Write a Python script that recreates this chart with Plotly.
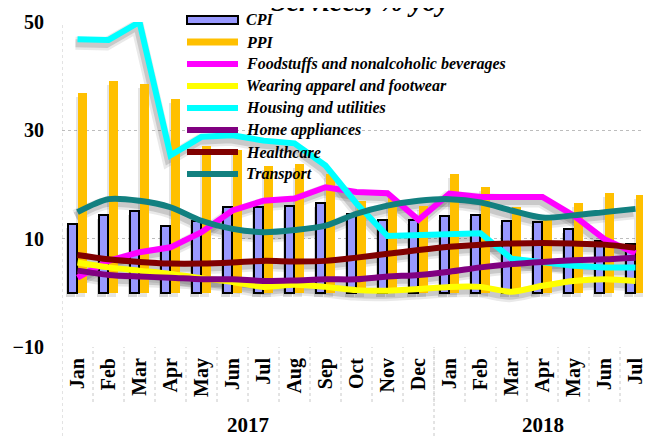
import plotly.graph_objects as go

# ------------------ data ------------------
months = ["Jan", "Feb", "Mar", "Apr", "May", "Jun", "Jul", "Aug", "Sep", "Oct", "Nov", "Dec",
          "Jan", "Feb", "Mar", "Apr", "May", "Jun", "Jul"]
year_labels = ["2017", "2018"]
year_counts = [12, 7]

cpi = [12.7, 14.3, 15.2, 12.4, 13.3, 15.8, 15.8, 16.1, 16.5, 14.6, 13.5, 13.5,
       14.1, 14.3, 13.3, 13.0, 11.8, 9.6, 9.0]
ppi = [36.9, 39.1, 38.5, 35.7, 27.2, 26.3, 23.4, 23.7, 22.0, 17.0, 17.5, 16.0,
       22.0, 19.5, 15.8, 13.5, 16.5, 18.4, 18.1]
food = [2.8, 5.9, 7.5, 8.4, 11.2, 15.2, 17.0, 17.4, 19.5, 18.6, 18.4, 13.5,
        18.3, 17.7, 17.7, 17.7, 14.3, 9.9, 7.3]
wear = [5.6, 4.7, 4.1, 3.5, 2.7, 2.0, 1.1, 1.5, 1.1, 0.5, 0.4, 0.7,
        1.1, 1.1, 0.2, 1.3, 2.2, 2.5, 2.2]
housing = [46.8, 46.7, 50.0, 25.4, 28.8, 29.1, 28.1, 27.6, 23.5, 16.5, 10.5, 10.6,
           10.9, 11.0, 6.3, 5.6, 5.0, 4.7, 4.7]
home = [4.1, 3.3, 3.0, 2.8, 2.5, 2.5, 2.2, 2.3, 2.5, 2.5, 3.0, 3.3,
        3.9, 4.7, 5.3, 5.7, 6.0, 6.2, 6.5]
health = [7.0, 6.2, 5.7, 5.4, 5.4, 5.6, 5.9, 5.8, 5.9, 6.5, 7.2, 7.9,
          8.5, 8.9, 9.1, 9.2, 9.1, 8.9, 8.3]
transport = [14.9, 17.3, 17.0, 15.8, 13.3, 11.8, 11.2, 11.6, 12.4, 14.6, 16.1, 17.0,
             17.3, 16.7, 15.2, 13.9, 14.3, 14.9, 15.5]

lines = [
    ("Foodstuffs and nonalcoholic beverages", food, "#FF00FF", "linear"),
    ("Wearing apparel and footwear", wear, "#FFFF00", "spline"),
    ("Housing and utilities", housing, "#00FFFF", "linear"),
    ("Home appliances", home, "#800080", "spline"),
    ("Healthcare", health, "#800000", "spline"),
    ("Transport", transport, "#128080", "spline"),
]

FONT = "Liberation Serif"
PAGE = 8                      # the page body has an 8px margin
W, H = 651 - PAGE, 436 - PAGE
L, T, B = 62 - PAGE, 22 - PAGE, 89
plot_w, plot_h = W - L, H - T - B
y_lo, y_hi = -10, 50
x = list(range(len(months)))

# shadow axes are shifted a few pixels (left / down)
dx = 2 / (plot_w / len(months))
dy = 4 / (plot_h / (y_hi - y_lo))

fig = go.Figure()

# ---- shadows (base axes x/y) ----
fig.add_trace(go.Bar(x=x, y=cpi, offset=-0.32, width=0.3, marker_color="rgba(0,0,0,0.15)",
                     marker_line_width=0, xaxis="x", yaxis="y"))
fig.add_trace(go.Bar(x=x, y=ppi, offset=0.0, width=0.3, marker_color="rgba(0,0,0,0.10)",
                     marker_line_width=0, xaxis="x", yaxis="y"))
for name, vals, col, shape in lines:
    fig.add_trace(go.Scatter(x=x, y=vals, mode="lines", xaxis="x", yaxis="y",
                             line=dict(color="rgba(40,40,40,0.10)", width=13, shape=shape, smoothing=0.8)))
    fig.add_trace(go.Scatter(x=x, y=vals, mode="lines", xaxis="x", yaxis="y",
                             line=dict(color="rgba(40,40,40,0.16)", width=8, shape=shape, smoothing=0.8)))

# ---- real series (overlay axes x2/y2) ----
fig.add_trace(go.Bar(x=x, y=cpi, name="CPI", offset=-0.32, width=0.3,
                     marker=dict(color="#9999FF", line=dict(color="black", width=2)),
                     xaxis="x2", yaxis="y2"))
fig.add_trace(go.Bar(x=x, y=ppi, name="PPI", offset=0.0, width=0.3,
                     marker=dict(color="#FFC000", line=dict(width=0)),
                     xaxis="x2", yaxis="y2"))
for name, vals, col, shape in lines:
    fig.add_trace(go.Scatter(x=x, y=vals, mode="lines", name=name, xaxis="x2", yaxis="y2",
                             line=dict(color=col, width=6, shape=shape, smoothing=0.8)))

# ---- custom legend (positions given in page pixels) ----
def px_to_paper_y(py):
    return 1 - (py - PAGE - T) / plot_h

def px_to_paper_x(px):
    return (px - PAGE - L) / plot_w

shapes = []
annotations = []
leg_rows = [20, 42, 64, 86, 108, 130, 152, 174]
leg_names = ["CPI", "PPI"] + [l[0] for l in lines]
sx0, sx1 = px_to_paper_x(187), px_to_paper_x(238)
for i, (nm, py) in enumerate(zip(leg_names, leg_rows)):
    if nm == "CPI":
        shapes.append(dict(type="rect", xref="paper", yref="paper", x0=sx0, x1=sx1,
                           y0=px_to_paper_y(py - 4), y1=px_to_paper_y(py + 4),
                           fillcolor="#9999FF", line=dict(color="black", width=2)))
    elif nm == "PPI":
        shapes.append(dict(type="rect", xref="paper", yref="paper", x0=sx0, x1=sx1,
                           y0=px_to_paper_y(py - 3.5), y1=px_to_paper_y(py + 3.5),
                           fillcolor="#FFC000", line=dict(width=0)))
    else:
        col = lines[i - 2][2]
        shapes.append(dict(type="line", xref="paper", yref="paper", x0=sx0, x1=sx1,
                           y0=px_to_paper_y(py), y1=px_to_paper_y(py),
                           line=dict(color=col, width=6)))
    annotations.append(dict(text="<b><i>%s</i></b>" % nm, xref="paper", yref="paper",
                            x=px_to_paper_x(244), y=px_to_paper_y(py), xanchor="left",
                            yanchor="middle", showarrow=False,
                            font=dict(family=FONT, size=16, color="black")))

# title (top cut off like the original)
annotations.append(dict(text="<b><i>Services, % yoy</i></b>", xref="paper", yref="paper",
                        x=px_to_paper_x(360), y=px_to_paper_y(19), xanchor="center", yanchor="bottom",
                        showarrow=False, font=dict(family=FONT, size=28, color="black")))

# year labels and separators under the month labels
start = 0
for yl, cnt in zip(year_labels, year_counts):
    annotations.append(dict(text="<b>%s</b>" % yl, xref="x2", yref="paper",
                            x=start + (cnt - 1) / 2, y=px_to_paper_y(425), xanchor="center",
                            yanchor="middle", showarrow=False,
                            font=dict(family=FONT, size=21, color="black")))
    shapes.append(dict(type="line", xref="x2", yref="paper", x0=start - 0.5, x1=start - 0.5,
                       y0=px_to_paper_y(436), y1=px_to_paper_y(347) if start else 1,
                       line=dict(color="#C8C8C8", width=1, dash="dot")))
    start += cnt
for k in range(1, len(months)):
    shapes.append(dict(type="line", xref="x2", yref="paper", x0=k - 0.5, x1=k - 0.5,
                       y0=px_to_paper_y(402), y1=0,
                       line=dict(color="#C8C8C8", width=1, dash="dot")))

fig.update_layout(
    width=W, height=H,
    margin=dict(l=L, r=0, t=T, b=B, autoexpand=False),
    paper_bgcolor="white", plot_bgcolor="white",
    showlegend=False, barmode="overlay", bargap=0,
    font=dict(family=FONT, color="black"),
    xaxis=dict(range=[-0.5 + dx, len(months) - 0.5 + dx], visible=False, automargin=False),
    yaxis=dict(range=[y_lo + dy, y_hi + dy], visible=False, automargin=False),
    xaxis2=dict(overlaying="x", anchor="y2", range=[-0.5, len(months) - 0.5],
                tickmode="array", tickvals=x, ticktext=months, tickangle=-90,
                tickfont=dict(family=FONT, size=20, weight="bold", color="black"),
                showgrid=False, zeroline=False, ticks="", ticklabelstandoff=6,
                automargin=False),
    yaxis2=dict(overlaying="y", anchor="x2", range=[y_lo, y_hi], tick0=-10, dtick=20,
                tickfont=dict(family=FONT, size=20, weight="bold", color="black"),
                showgrid=True, gridcolor="#BDBDBD", griddash="dot", gridwidth=1,
                zeroline=False, ticks="", ticklabelstandoff=17, automargin=False),
    shapes=shapes, annotations=annotations,
)

fig.write_html("out.html")
